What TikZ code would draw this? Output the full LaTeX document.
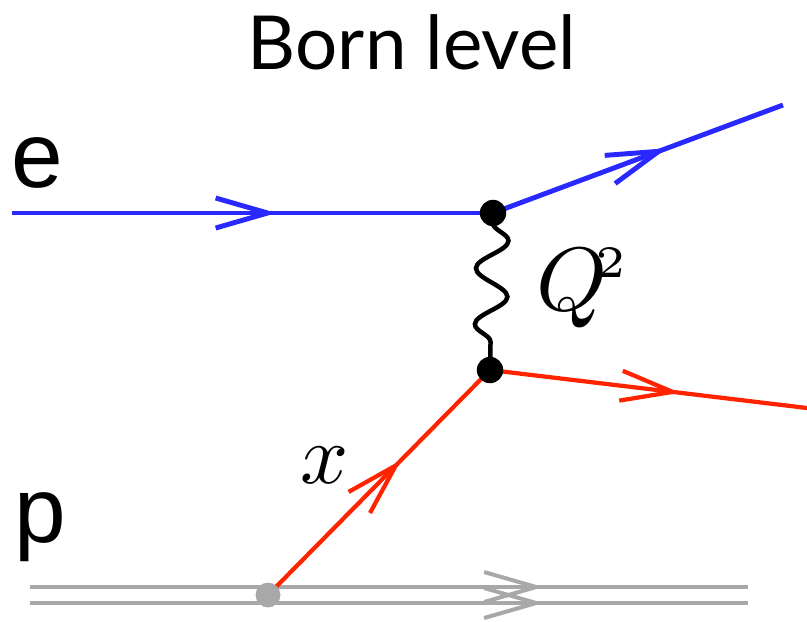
\documentclass[tikz,border=0pt]{standalone}
\usepackage{fontspec}
\setmainfont{Liberation Sans}
\newfontfamily\titlefont{Lato}
\usepackage{tikz}
\usetikzlibrary{arrows.meta,decorations.pathmorphing,decorations.markings}
\definecolor{fdblue}{RGB}{40,40,255}
\definecolor{fdred}{RGB}{255,35,0}
\definecolor{fdgray}{RGB}{168,168,168}
\tikzset{
  midarrow/.style={postaction={decorate}, decoration={markings, mark=at position #1 with {\arrow{Straight Barb[length=1.3cm,width=0.75cm]}}}},
  vertexdot/.style={circle, fill=black, inner sep=0pt, minimum size=0.66cm}
}

\begin{document}
\begin{tikzpicture}[x=0.025cm, y=-0.025cm]
  \useasboundingbox (0,0) rectangle (807,621);

  \node[font=\titlefont\fontsize{53}{58}\selectfont] (title) at (412,42) {Born level};
  \node[font=\fontsize{66}{70}\selectfont, inner sep=0pt] (elab) at (37,163) {e};
  \node[font=\fontsize{66}{70}\selectfont, inner sep=0pt] (plab) at (40,527) {p};

  \coordinate (ein) at (12,213);
  \coordinate (v1) at (493,213);
  \coordinate (eout) at (783,105);
  \coordinate (v2) at (490,370);
  \coordinate (qout) at (807,408);
  \coordinate (pv) at (268,595);
  \coordinate (pin) at (30,595);
  \coordinate (pout) at (748,595);

  \draw[fdgray, line width=2.85pt, midarrow=0.715] ([yshift=0.2cm]pin) -- ([yshift=0.2cm]pout);
  \draw[fdgray, line width=2.85pt, midarrow=0.715] ([yshift=-0.2cm]pin) -- ([yshift=-0.2cm]pout);

  \draw[fdblue, line width=3.5pt, midarrow=0.55] (ein) -- (v1);
  \draw[fdblue, line width=3.5pt, midarrow=0.6] (v1) -- (eout);
  \draw[fdred, line width=3pt, midarrow=0.6] (pv) -- (v2);
  \draw[fdred, line width=3pt, midarrow=0.6] (v2) -- (qout);
  \draw[black, line width=3.2pt, decorate, decoration={snake, segment length=1.4cm, amplitude=0.4cm, pre length=0.25cm, post length=0.25cm}] (v1) -- (v2);

  \node[vertexdot] (dot1) at (v1) {};
  \node[vertexdot] (dot2) at (v2) {};
  \node[circle, fill=fdgray, inner sep=0pt, minimum size=0.62cm] (pdot) at (pv) {};

  \node[scale=6.4, inner sep=0pt] (qlab) at (583,288) {$Q^{\!\scriptscriptstyle 2}$};
  \node[scale=6.0, inner sep=0pt] (xlab) at (325,465) {$x$};
\end{tikzpicture}
\end{document}
